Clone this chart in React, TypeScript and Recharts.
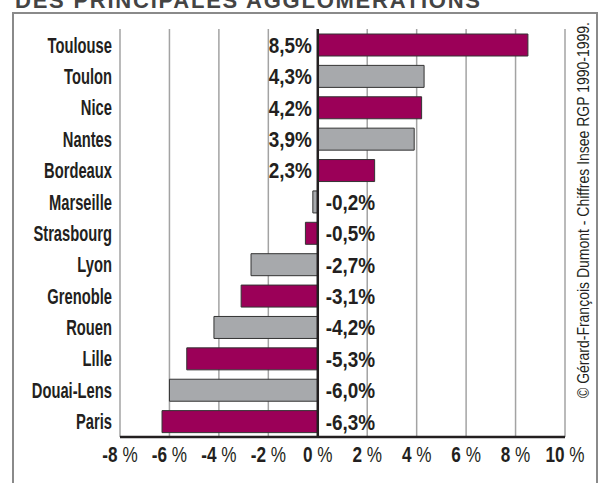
import React from 'react';
import { BarChart, Bar, XAxis, YAxis, CartesianGrid, Cell, LabelList, ReferenceLine } from 'recharts';

const cities = ['Toulouse', 'Toulon', 'Nice', 'Nantes', 'Bordeaux', 'Marseille', 'Strasbourg', 'Lyon', 'Grenoble', 'Rouen', 'Lille', 'Douai-Lens', 'Paris'];
const growth = [8.5, 4.3, 4.2, 3.9, 2.3, -0.2, -0.5, -2.7, -3.1, -4.2, -5.3, -6.0, -6.3];
const xTicks = [-8, -6, -4, -2, 0, 2, 4, 6, 8, 10];

const TITLE = 'DES PRINCIPALES AGGLOMERATIONS';
const SOURCE = '© Gérard-François Dumont - Chiffres Insee RGP 1990-1999.';

const COLORS = ['#9b0058', '#a7a9ac'];
const INK = '#231f20';
const FONT = "'Liberation Sans', Arial, sans-serif";

const chartData = cities.map((name, i) => ({ name, value: growth[i] }));

const fmt = (v: number) => v.toFixed(1).replace('.', ',') + '%';

const CityTick = (props: any) => {
  const { x, y, payload } = props;
  return (
    <g transform={`translate(${x},${y}) scale(0.67,1)`}>
      <text textAnchor="end" dy="0.36em" fontSize={22} fontWeight="bold" fill={INK} fontFamily={FONT}>
        {payload.value}
      </text>
    </g>
  );
};

const PctTick = (props: any) => {
  const { x, y, payload } = props;
  return (
    <g transform={`translate(${x},${y}) scale(0.78,1)`}>
      <text dy="0.78em" textAnchor="middle" fontSize={22} fill={INK} fontFamily={FONT}>
        <tspan fontWeight="bold">{payload.value}</tspan>
        <tspan fontWeight="normal"> %</tspan>
      </text>
    </g>
  );
};

const ValueLabel = (props: any) => {
  const { x, y, width, height, value } = props;
  const v = Number(value);
  let zero: number;
  if (v >= 0) zero = width >= 0 ? x : x + width;
  else zero = width < 0 ? x : x + width;
  const cy = y + height / 2;
  const pos = v >= 0;
  return (
    <g transform={`translate(${pos ? zero - 6 : zero + 8},${cy}) scale(0.86,1)`}>
      <text dy="0.36em" textAnchor={pos ? 'end' : 'start'} fontSize={22} fontWeight="bold" fill={INK} fontFamily={FONT}>
        {fmt(v)}
      </text>
    </g>
  );
};

export default function App() {
  return (
    <div style={{ position: 'absolute', left: 0, top: 0, width: 605, height: 483, overflow: 'hidden', background: '#fff' }}>
      <svg width={605} height={483} style={{ position: 'absolute', left: 0, top: 0 }}>
        <text x={15} y={8} fontSize={22} fontWeight="bold" fill="#444" fontFamily={FONT} textLength={465} lengthAdjust="spacing">
          {TITLE}
        </text>
      </svg>
      <div style={{ position: 'absolute', left: 12, top: 12, width: 586, height: 520, border: '2.5px solid #8a8a8a', boxSizing: 'border-box' }} />
      <div style={{ position: 'absolute', left: 0, top: 0 }}>
        <BarChart width={605} height={483} data={chartData} layout="vertical" margin={{ top: 29, right: 40, bottom: 16, left: 0 }} barSize={22}>
          <CartesianGrid horizontal={false} stroke="#a3a3a3" strokeWidth={1.5} />
          <XAxis
            type="number"
            domain={[-8, 10]}
            ticks={xTicks}
            interval={0}
            height={30}
            tickLine={false}
            axisLine={{ stroke: INK, strokeWidth: 2.5 }}
            tick={<PctTick />}
          />
          <YAxis
            type="category"
            dataKey="name"
            width={120}
            axisLine={false}
            tickLine={false}
            tickSize={0}
            tickMargin={8}
            interval={0}
            tick={<CityTick />}
          />
          <Bar dataKey="value" stroke="#333" strokeWidth={1} isAnimationActive={false}>
            {chartData.map((_d, i) => (
              <Cell key={`c-${i}`} fill={COLORS[i % 2]} />
            ))}
            <LabelList dataKey="value" content={<ValueLabel />} />
          </Bar>
          <ReferenceLine x={0} stroke={INK} strokeWidth={2.5} />
        </BarChart>
      </div>
      <svg width={605} height={483} style={{ position: 'absolute', left: 0, top: 0, pointerEvents: 'none' }}>
        <text
          transform="translate(589,210) rotate(-90)"
          textAnchor="middle"
          fontSize={17}
          fill={INK}
          fontFamily={FONT}
          textLength={376}
          lengthAdjust="spacingAndGlyphs"
        >
          {SOURCE}
        </text>
      </svg>
    </div>
  );
}
